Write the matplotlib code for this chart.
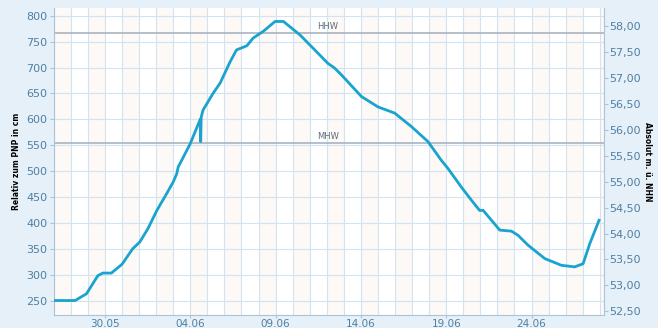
import matplotlib
matplotlib.use("Agg")
import matplotlib.pyplot as plt
import matplotlib.dates as mdates
import pandas as pd

# Pegel-Daten (Zeitpunkt, Wasserstand relativ zum PNP in cm)
zeiten = ["27.05 01:00", "28.05 06:00", "28.05 22:00", "29.05 14:00", "29.05 21:00",
          "30.05 09:00", "31.05 00:00", "31.05 15:00", "01.06 01:00", "01.06 12:30",
          "02.06 01:00", "02.06 15:00", "03.06 00:00", "03.06 05:00", "03.06 07:00",
          "03.06 12:00", "04.06 00:00", "04.06 14:00", "04.06 14:40", "04.06 15:20",
          "04.06 18:00", "05.06 08:00", "05.06 18:00", "06.06 08:00", "06.06 17:00",
          "07.06 07:30", "07.06 16:30", "08.06 06:45", "08.06 23:15", "09.06 11:00",
          "09.06 20:00", "10.06 10:20", "11.06 05:00", "12.06 01:40", "12.06 11:00",
          "12.06 20:30", "14.06 00:45", "15.06 00:00", "15.06 23:30", "16.06 23:00",
          "17.06 22:20", "18.06 17:00", "19.06 02:30", "19.06 21:20", "20.06 11:20",
          "20.06 23:00", "21.06 04:00", "22.06 03:20", "22.06 19:40", "23.06 05:00",
          "23.06 19:00", "24.06 18:40", "25.06 18:00", "26.06 12:40", "27.06 00:30",
          "27.06 10:00", "27.06 23:00"]
pegel = [250, 250, 263, 298, 303,
         303, 320, 350, 363, 389,
         424, 457, 479, 495, 508,
         521, 553, 600, 557, 604,
         618, 650, 670, 711, 734,
         742, 757, 770, 789, 789,
         779, 763, 737, 708, 699,
         686, 644, 624, 612, 586,
         557, 521, 505, 469, 444,
         424, 424, 386, 384, 376,
         357, 331, 318, 315, 321,
         360, 405]

hhw = 767
mhw = 554
pnp = 50.207  # m ü. NHN

x_ticks = ["30.05", "04.06", "09.06", "14.06", "19.06", "24.06"]
y_ticks = [250, 300, 350, 400, 450, 500, 550, 600, 650, 700, 750, 800]
y2_ticks = [52.5, 53.0, 53.5, 54.0, 54.5, 55.0, 55.5, 56.0, 56.5, 57.0, 57.5, 58.0]

zeit = pd.to_datetime(["2013." + z for z in zeiten], format="%Y.%d.%m %H:%M")
x_tick_dates = pd.to_datetime(["2013." + t for t in x_ticks], format="%Y.%d.%m")

blau = "#4f7fa3"
gitter = "#d3e3f0"

fig = plt.figure(figsize=(6.58, 3.28), dpi=100, facecolor="#e6f0f8")
ax = fig.add_axes([0.0828, 0.0396, 0.8352, 0.936])
ax.set_facecolor("white")

x0 = pd.Timestamp("2013-05-27 01:00")
x1 = pd.Timestamp("2013-06-28 06:00")
ax.set_xlim(x0, x1)
ax.set_ylim(222, 815)

# Tagesstreifen und Gitter
tage = pd.date_range("2013-05-27", "2013-06-28", freq="D")
for i, t in enumerate(tage):
    if i % 2 == 0:
        ax.axvspan(t, t + pd.Timedelta(days=1), color="#fcf9f7", zorder=0, lw=0)
    ax.axvline(t, color=gitter, lw=0.8, zorder=1)
for y in y_ticks:
    ax.axhline(y, color=gitter, lw=0.8, zorder=1)

ax.axhline(hhw, color="#a9b4bf", lw=1.2, zorder=2)
ax.axhline(mhw, color="#a9b4bf", lw=1.2, zorder=2)
ax.text(0.478, hhw + 4, "HHW", transform=ax.get_yaxis_transform(),
        fontsize=6, color="#5d6b78", va="bottom")
ax.text(0.478, mhw + 4, "MHW", transform=ax.get_yaxis_transform(),
        fontsize=6, color="#5d6b78", va="bottom")

ax.plot(zeit, pegel, color="#19a3cf", lw=2, zorder=3, solid_joinstyle="round")

ax.set_xticks(x_tick_dates)
ax.xaxis.set_major_formatter(mdates.DateFormatter("%d.%m"))
ax.set_yticks(y_ticks)
ax.tick_params(axis="y", colors="#a8c4d8", labelcolor=blau, labelsize=8,
               length=3, pad=2)
ax.tick_params(axis="x", colors="#a8c4d8", labelcolor=blau, labelsize=7.5,
               length=2, pad=1)
for s in ["left", "right", "bottom"]:
    ax.spines[s].set_color("#a8c4d8")
ax.spines["top"].set_visible(False)
ax.set_ylabel("Relativ zum PNP in cm", fontsize=5.5, fontweight="bold",
              family=["Liberation Sans Narrow", "DejaVu Sans"], labelpad=4)

ax2 = ax.twinx()
ax2.set_ylim(222 / 100 + pnp, 815 / 100 + pnp)
ax2.set_yticks(y2_ticks)
ax2.set_yticklabels([f"{v:.2f}".replace(".", ",") for v in y2_ticks])
ax2.tick_params(axis="y", colors="#a8c4d8", labelcolor=blau, labelsize=8,
                length=3, pad=1)
for s in ["left", "right", "bottom", "top"]:
    ax2.spines[s].set_visible(False)
ax2.set_ylabel("Absolut m. ü. NHN", fontsize=5.5, fontweight="bold",
               family=["Liberation Sans Narrow", "DejaVu Sans"],
               rotation=-90, labelpad=8)

fig.savefig("out.png", dpi=100, facecolor=fig.get_facecolor())
